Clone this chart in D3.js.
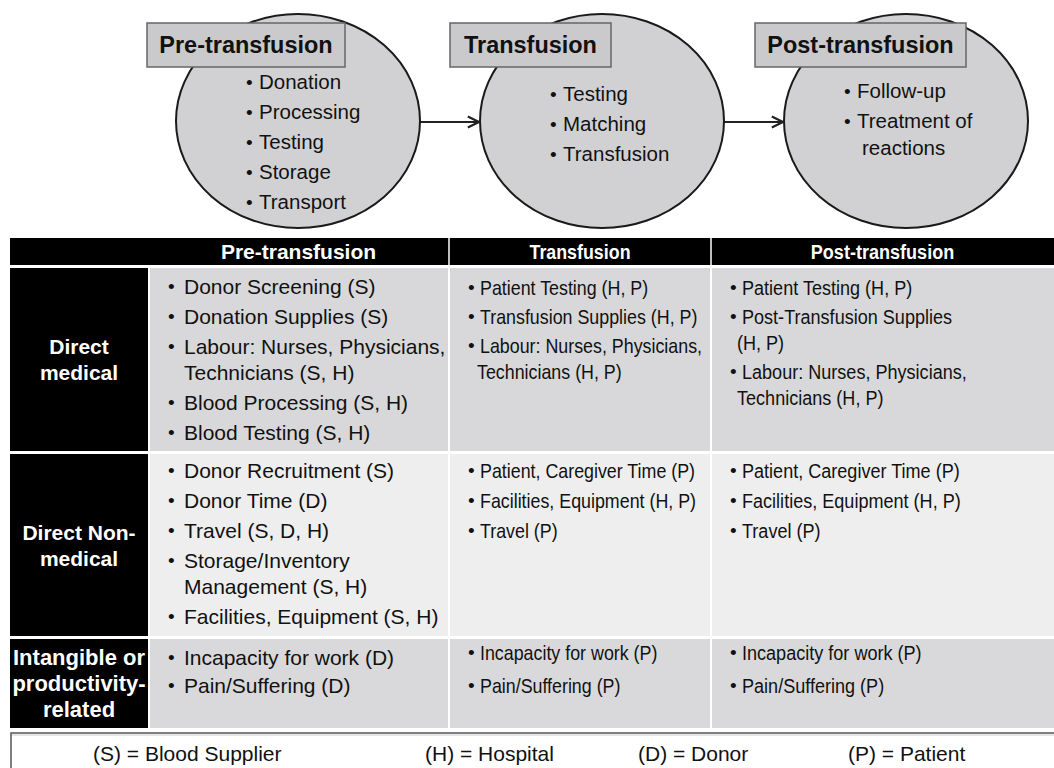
<!DOCTYPE html>
<html><head><meta charset="utf-8">
<script src="https://cdn.jsdelivr.net/npm/d3@7/dist/d3.min.js"></script>
<style>html,body{margin:0;padding:0;background:#fff;}svg{display:block;font-family:"Liberation Sans",Arial,Helvetica,sans-serif;}</style>
</head><body>
<svg id="c" width="1054" height="768"></svg>
<script>
// ---------- data ----------
const stages = ["Pre-transfusion", "Transfusion", "Post-transfusion"];
const stageItems = [
  [["Donation"], ["Processing"], ["Testing"], ["Storage"], ["Transport"]],
  [["Testing"], ["Matching"], ["Transfusion"]],
  [["Follow-up"], ["Treatment of", "reactions"]]
];
const costCategories = [["Direct", "medical"], ["Direct Non-", "medical"], ["Intangible or", "productivity-", "related"]];
const directMedical = [
  [["Donor Screening (S)"], ["Donation Supplies (S)"], ["Labour: Nurses, Physicians,", "Technicians (S, H)"], ["Blood Processing (S, H)"], ["Blood Testing (S, H)"]],
  [["Patient Testing (H, P)"], ["Transfusion Supplies (H, P)"], ["Labour: Nurses, Physicians,", "Technicians (H, P)"]],
  [["Patient Testing (H, P)"], ["Post-Transfusion Supplies", "(H, P)"], ["Labour: Nurses, Physicians,", "Technicians (H, P)"]]
];
const directNonMedical = [
  [["Donor Recruitment (S)"], ["Donor Time (D)"], ["Travel (S, D, H)"], ["Storage/Inventory", "Management (S, H)"], ["Facilities, Equipment (S, H)"]],
  [["Patient, Caregiver Time (P)"], ["Facilities, Equipment (H, P)"], ["Travel (P)"]],
  [["Patient, Caregiver Time (P)"], ["Facilities, Equipment (H, P)"], ["Travel (P)"]]
];
const intangible = [
  [["Incapacity for work (D)"], ["Pain/Suffering (D)"]],
  [["Incapacity for work (P)"], ["Pain/Suffering (P)"]],
  [["Incapacity for work (P)"], ["Pain/Suffering (P)"]]
];
const legendLabels = ["(S) = Blood Supplier", "(H) = Hospital", "(D) = Donor", "(P) = Patient"];

// ---------- layout ----------
const svg = d3.select("#c");
const rowsData = [directMedical, directNonMedical, intangible];

function stext(g, x, y, str, opts) {
  const sx = opts.sx || 1;
  return g.append("text")
    .attr("transform", `translate(${x},${y}) scale(${sx},1)`)
    .attr("dy", "0.36em")
    .attr("text-anchor", opts.anchor || "start")
    .attr("font-size", opts.size)
    .attr("font-weight", opts.bold ? "bold" : "normal")
    .attr("fill", opts.fill || "#111")
    .text(str);
}

// ellipses
const ex = d3.scalePoint().domain(stages).range([298, 906]);
const eCy = 121, eRx = 122, eRy = 107;
const boxLeft = [147, 450, 755], boxRight = [345, 611, 966];
const itemTop = [82, 94, 91], bulletX = [246, 550, 844];

const defs = svg.append("defs");
defs.append("marker").attr("id", "arr").attr("viewBox", "0 0 10 10").attr("refX", 9).attr("refY", 5)
  .attr("markerWidth", 7).attr("markerHeight", 7).attr("orient", "auto")
  .append("path").attr("d", "M1,1 L9,5 L1,9").attr("fill", "none").attr("stroke", "#222").attr("stroke-width", 1.6);

stages.slice(0, -1).forEach((s, i) => {
  svg.append("line").attr("x1", ex(s) + eRx).attr("x2", ex(stages[i + 1]) - eRx - 1)
    .attr("y1", eCy + 1).attr("y2", eCy + 1).attr("stroke", "#222").attr("stroke-width", 2)
    .attr("marker-end", "url(#arr)");
});

const eg = svg.selectAll("g.stage").data(stages).join("g").attr("class", "stage");
eg.append("ellipse").attr("cx", d => ex(d)).attr("cy", eCy).attr("rx", eRx).attr("ry", eRy)
  .attr("fill", "#d1d1d3").attr("stroke", "#1a1a1a").attr("stroke-width", 2);
eg.append("rect").attr("x", (d, i) => boxLeft[i]).attr("y", 23).attr("width", (d, i) => boxRight[i] - boxLeft[i]).attr("height", 44)
  .attr("fill", "#cacacc").attr("stroke", "#666").attr("stroke-width", 1.5);
eg.each(function (d, i) {
  stext(d3.select(this), (boxLeft[i] + boxRight[i]) / 2, 45, d, { size: 23, bold: true, anchor: "middle", sx: 1.02 });
});

eg.each(function (d, i) {
  const g = d3.select(this);
  let y = itemTop[i];
  stageItems[i].forEach(item => {
    stext(g, bulletX[i], y, "•", { size: 19 });
    item.forEach((line, k) => {
      stext(g, bulletX[i] + (k === 0 ? 13 : 18), y, line, { size: 20.5 });
      if (k < item.length - 1) y += 27;
    });
    y += 30;
  });
});

// table
const colX = [10, 148, 449, 711, 1054];
const headerY = [238, 265];
const rowY = [[268, 451], [454, 636], [639, 728]];
const rowFill = ["#d8d8da", "#eeeeef", "#d9d9db"];
const colScale = [1.0, 0.85, 0.86];
const bulletOff = [20, 19, 19], textOff = [36, 31, 31], contOff = [0, -3, -5];
const firstLine = [[286, 287, 287], [470, 470, 470], [657, 652, 652]];
const itemGap = [[30, 29, 29], [30, 30, 30], [28, 33, 33]];
const catSize = [21, 21, 22];

svg.append("rect").attr("x", colX[0]).attr("y", headerY[0]).attr("width", colX[4] - colX[0]).attr("height", headerY[1] - headerY[0]).attr("fill", "#000");
stages.forEach((s, j) => {
  stext(svg, (colX[j + 1] + colX[j + 2]) / 2, (headerY[0] + headerY[1]) / 2, s, { size: 21, bold: true, anchor: "middle", fill: "#fff", sx: colScale[j] });
  if (j > 0) svg.append("line").attr("x1", colX[j + 1]).attr("x2", colX[j + 1]).attr("y1", headerY[0]).attr("y2", headerY[1]).attr("stroke", "#fff").attr("stroke-width", 1.5);
});

costCategories.forEach((cat, r) => {
  const [y0, y1] = rowY[r];
  svg.append("rect").attr("x", colX[0]).attr("y", y0).attr("width", colX[1] - colX[0]).attr("height", y1 - y0).attr("fill", "#000");
  const n = cat.length, lh = 26, cy = (y0 + y1) / 2;
  cat.forEach((line, k) => {
    stext(svg, (colX[0] + colX[1]) / 2, cy + (k - (n - 1) / 2) * lh, line, { size: catSize[r], bold: true, anchor: "middle", fill: "#fff" });
  });
  rowsData[r].forEach((cell, j) => {
    const x0 = colX[j + 1] + (j === 0 ? 2 : 1), x1 = colX[j + 2] - (j === 2 ? 0 : 1);
    svg.append("rect").attr("x", x0).attr("y", y0).attr("width", x1 - x0).attr("height", y1 - y0).attr("fill", rowFill[r]);
    let y = firstLine[r][j];
    const bx = colX[j + 1] + bulletOff[j], tx = colX[j + 1] + textOff[j];
    cell.forEach(item => {
      stext(svg, bx, y, "•", { size: 19 });
      item.forEach((line, k) => {
        stext(svg, tx + (k === 0 ? 0 : contOff[j]), y, line, { size: 21, sx: colScale[j] });
        if (k < item.length - 1) y += 26;
      });
      y += itemGap[r][j];
    });
  });
});

// legend box
svg.append("path").attr("d", `M${colX[0] + 1},768 V733 H1054`).attr("fill", "none").attr("stroke", "#555").attr("stroke-width", 1.5);
svg.append("line").attr("x1", colX[0] + 2).attr("x2", 1054).attr("y1", 735).attr("y2", 735).attr("stroke", "#ccc").attr("stroke-width", 1);
const legendX = [93, 425, 638, 848];
legendLabels.forEach((l, i) => {
  stext(svg, legendX[i], 753, l, { size: 21 });
});
</script>
</body></html>
